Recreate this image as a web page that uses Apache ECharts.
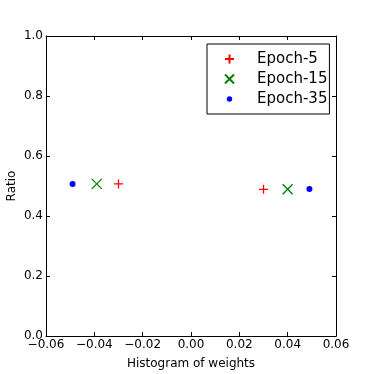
<!DOCTYPE html>
<html>
<head>
<meta charset="utf-8">
<script src="https://cdn.jsdelivr.net/npm/echarts@6/dist/echarts.min.js"></script>
<style>html,body{margin:0;padding:0;background:#fff}#c{width:374px;height:374px}</style>
</head>
<body>
<div id="c"></div>
<script>
var seriesNames = ['Epoch-5', 'Epoch-15', 'Epoch-35'];
var epoch5X = [-0.030, 0.030];
var epoch5Y = [0.507, 0.489];
var epoch15X = [-0.039, 0.040];
var epoch15Y = [0.507, 0.489];
var epoch35X = [-0.049, 0.049];
var epoch35Y = [0.507, 0.490];
var xTicks = [-0.06, -0.04, -0.02, 0.00, 0.02, 0.04, 0.06];
var yTicks = [0.0, 0.2, 0.4, 0.6, 0.8, 1.0];

function pairs(xs, ys) { return xs.map(function (x, i) { return [x, ys[i]]; }); }
function fmtX(v) { var r = Math.round(v * 100) / 100; return (r < 0 ? '\u2212' : '') + Math.abs(r).toFixed(2); }
function fmtY(v) { return (Math.round(v * 10) / 10).toFixed(1); }

var FONT = 'DejaVu Sans';
var plusPath = 'path://M0,5L10,5M5,0L5,10';
var crossPath = 'path://M0,0L10,10M10,0L0,10';
var dotPath = 'path://M0,0M10,10M8,5A3,3,0,1,1,2,5A3,3,0,1,1,8,5Z';

function xAx(pos, show) {
  return {
    type: 'value', position: pos, min: xTicks[0], max: xTicks[xTicks.length - 1], interval: 0.02,
    name: show ? 'Histogram of weights' : '', nameLocation: 'middle', nameGap: 22, nameMoveOverlap: false,
    nameTextStyle: { fontFamily: FONT, fontSize: 12, color: '#000' },
    axisLine: { show: true, onZero: false, lineStyle: { color: '#000', width: 1 } },
    axisTick: { show: true, inside: true, length: 4, lineStyle: { color: '#000' } },
    axisLabel: { show: show, margin: 3, fontFamily: FONT, fontSize: 12, color: '#000', formatter: fmtX },
    splitLine: { show: false }
  };
}
function yAx(pos, show) {
  return {
    type: 'value', position: pos, min: yTicks[0], max: yTicks[yTicks.length - 1], interval: 0.2,
    name: show ? 'Ratio' : '', nameLocation: 'middle', nameGap: 28, nameMoveOverlap: false,
    nameTextStyle: { fontFamily: FONT, fontSize: 12, color: '#000' },
    axisLine: { show: true, onZero: false, lineStyle: { color: '#000', width: 1 } },
    axisTick: { show: true, inside: true, length: 4, lineStyle: { color: '#000' } },
    axisLabel: { show: show, margin: 3, fontFamily: FONT, fontSize: 12, color: '#000', formatter: fmtY },
    splitLine: { show: false }
  };
}

var chart = echarts.init(document.getElementById('c'), null, { renderer: 'canvas' });
chart.setOption({
  animation: false,
  backgroundColor: '#fff',
  grid: { left: 46, right: 38, top: 36, bottom: 38, containLabel: false, outerBoundsMode: 'none' },
  xAxis: [xAx('bottom', true), xAx('top', false)],
  yAxis: [yAx('left', true), yAx('right', false)],
  legend: {
    orient: 'vertical', left: 207, top: 44,
    backgroundColor: '#fff', borderColor: '#000', borderWidth: 1, borderRadius: 0,
    padding: [5, 2, 5, 17], itemGap: 0, itemWidth: 9, itemHeight: 9,
    textStyle: { fontFamily: FONT, fontSize: 15, color: '#000', lineHeight: 20, padding: [0, 0, 0, 18] },
    data: seriesNames
  },
  series: [
    { name: seriesNames[0], type: 'scatter', data: pairs(epoch5X, epoch5Y), symbol: plusPath, symbolSize: 9,
      itemStyle: { color: 'rgba(0,0,0,0)', borderColor: '#ff0000', borderWidth: 1.3, opacity: 1 } },
    { name: seriesNames[1], type: 'scatter', data: pairs(epoch15X, epoch15Y), symbol: crossPath, symbolSize: 10,
      itemStyle: { color: 'rgba(0,0,0,0)', borderColor: '#008000', borderWidth: 1.3, opacity: 1 } },
    { name: seriesNames[2], type: 'scatter', data: pairs(epoch35X, epoch35Y), symbol: dotPath, symbolSize: 10,
      itemStyle: { color: '#0000ff', borderWidth: 0, opacity: 1 } }
  ]
});
</script>
</body>
</html>
